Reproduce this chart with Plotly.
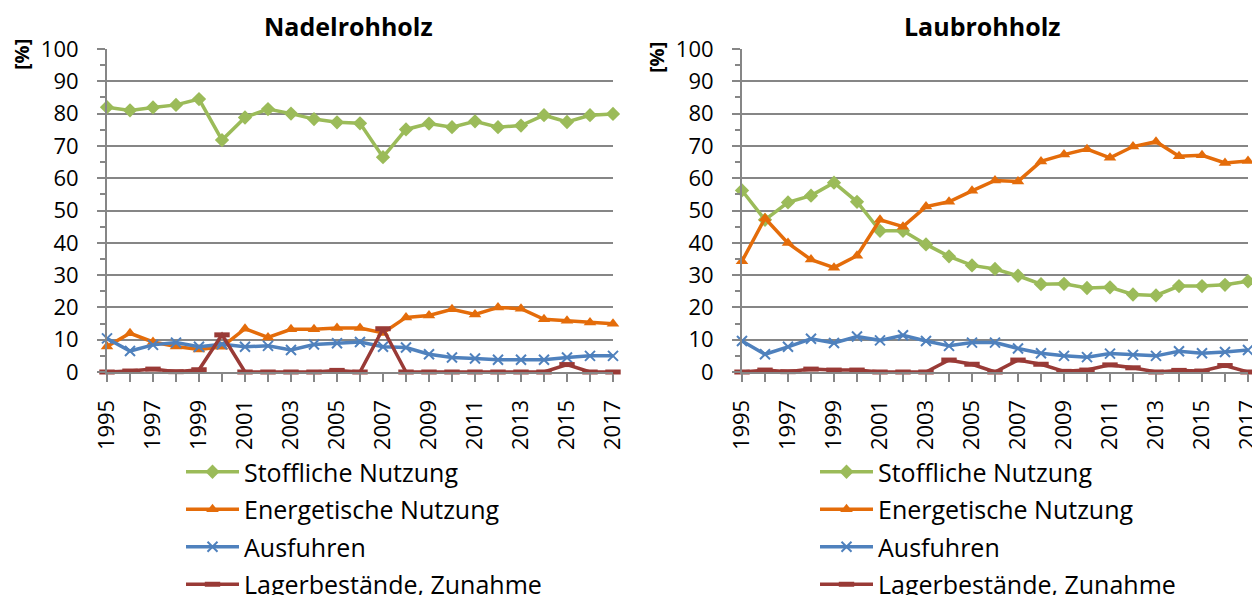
import plotly.graph_objects as go

years = list(range(1995, 2018))
tick_years = list(range(1995, 2018, 2))

series_names = ["Stoffliche Nutzung", "Energetische Nutzung", "Ausfuhren", "Lagerbestände, Zunahme"]

nadel_stoff = [82.0, 81.0, 81.9, 82.7, 84.5, 71.8, 78.8, 81.4, 80.0, 78.3, 77.3, 77.0, 66.5, 75.1, 76.9, 75.8, 77.6, 75.8, 76.3, 79.5, 77.4, 79.5, 79.9]
nadel_energ = [7.9, 12.0, 9.3, 7.9, 7.0, 7.8, 13.4, 10.7, 13.2, 13.2, 13.6, 13.6, 12.1, 16.9, 17.5, 19.4, 17.8, 20.0, 19.6, 16.3, 15.9, 15.3, 14.9]
nadel_ausf = [10.4, 6.5, 8.4, 9.1, 7.8, 8.6, 7.8, 8.1, 6.8, 8.5, 8.9, 9.3, 7.8, 7.6, 5.5, 4.5, 4.2, 3.8, 3.8, 3.8, 4.5, 5.0, 5.0]
nadel_lager = [0.0, 0.3, 0.9, 0.1, 0.7, 11.5, 0.0, 0.0, 0.0, 0.0, 0.5, 0.0, 13.4, 0.0, 0.0, 0.0, 0.0, 0.0, 0.0, 0.0, 2.3, 0.0, 0.0]

laub_stoff = [56.2, 47.1, 52.5, 54.6, 58.6, 52.7, 43.7, 43.7, 39.5, 35.8, 33.0, 31.9, 29.8, 27.2, 27.3, 26.0, 26.2, 24.0, 23.7, 26.6, 26.6, 27.0, 28.1]
laub_energ = [34.3, 47.6, 39.9, 34.8, 32.3, 36.0, 47.1, 45.0, 51.2, 52.7, 56.1, 59.3, 59.0, 65.2, 67.3, 69.0, 66.3, 69.8, 71.3, 66.8, 67.1, 64.7, 65.3]
laub_ausf = [9.6, 5.5, 7.8, 10.3, 9.0, 11.0, 9.8, 11.4, 9.6, 8.1, 9.1, 9.1, 7.3, 5.8, 5.0, 4.6, 5.7, 5.3, 5.0, 6.4, 5.8, 6.2, 6.8]
laub_lager = [0.0, 0.6, 0.1, 0.9, 0.6, 0.6, 0.0, 0.0, 0.0, 3.7, 2.4, 0.0, 3.7, 2.4, 0.2, 0.6, 2.2, 1.3, 0.0, 0.5, 0.3, 2.0, 0.0]

colors = ["#9BBB59", "#E46C0A", "#4F81BD", "#993A36"]
FONT = "Open Sans"
W, H = 1260, 595
OFF = 8  # page body margin

def px_x(p):
    return (p - OFF) / W

def px_y(p):
    return 1 - (p - OFF) / H

markers = [
    dict(symbol="diamond", size=11, color=colors[0]),
    dict(symbol="triangle-up", size=11, color=colors[1]),
    dict(symbol="x-thin", size=10, color=colors[2], line=dict(color=colors[2], width=2)),
    dict(symbol="line-ew", size=11, color=colors[3], line=dict(color=colors[3], width=5)),
]

fig = go.Figure()

panels = [
    ("x", "y", "legend", [nadel_stoff, nadel_energ, nadel_ausf, nadel_lager]),
    ("x2", "y2", "legend2", [laub_stoff, laub_energ, laub_ausf, laub_lager]),
]
for xa, ya, lg, data in panels:
    for name, vals, col, mk in zip(series_names, data, colors, markers):
        fig.add_trace(go.Scatter(
            x=years, y=vals, name=name, mode="lines+markers",
            line=dict(color=col, width=3.5), marker=mk,
            xaxis=xa, yaxis=ya, legend=lg, cliponaxis=False,
            hoverinfo="skip", legendgroup=lg + name,
        ))

axis_color = "#868686"
xcommon = dict(
    range=[1995, 2017], tickvals=tick_years, tickangle=-90,
    ticks="outside", ticklen=8, tickwidth=2, tickcolor=axis_color,
    minor=dict(dtick=1, tick0=1995, ticks="outside", ticklen=8, tickwidth=2, tickcolor=axis_color, showgrid=False),
    showline=True, linecolor=axis_color, linewidth=2, showgrid=False, zeroline=False,
    tickfont=dict(family=FONT, size=22, color="#000000"), ticklabelstandoff=9,
    fixedrange=True, automargin=False,
)
ycommon = dict(
    range=[0, 100], dtick=10, ticks="outside", ticklen=8, tickwidth=2, tickcolor=axis_color,
    minor=dict(dtick=5, ticks="outside", ticklen=5, tickwidth=2, tickcolor=axis_color, showgrid=False),
    showline=True, linecolor=axis_color, linewidth=2,
    showgrid=True, gridcolor=axis_color, gridwidth=2, zeroline=False,
    tickfont=dict(family=FONT, size=22, color="#000000"), ticklabelstandoff=14,
    fixedrange=True, automargin=False,
)

ydom = [px_y(372), px_y(49)]
fig.update_layout(
    width=W, height=H,
    margin=dict(l=0, r=0, t=0, b=0, autoexpand=False),
    paper_bgcolor="white", plot_bgcolor="white",
    showlegend=True,
    xaxis=dict(domain=[px_x(107), px_x(613)], anchor="y", **xcommon),
    yaxis=dict(domain=ydom, anchor="x", **ycommon),
    xaxis2=dict(domain=[px_x(742), px_x(1248)], anchor="y2", **xcommon),
    yaxis2=dict(domain=ydom, anchor="x2", **ycommon),
    legend=dict(x=px_x(181), y=px_y(449), xanchor="left", yanchor="top",
                font=dict(family=FONT, size=25, color="#000000"),
                itemwidth=53, tracegroupgap=2, bgcolor="rgba(0,0,0,0)"),
    legend2=dict(x=px_x(815), y=px_y(449), xanchor="left", yanchor="top",
                 font=dict(family=FONT, size=25, color="#000000"),
                 itemwidth=53, tracegroupgap=2, bgcolor="rgba(0,0,0,0)"),
    annotations=[
        dict(text="<b>Nadelrohholz</b>", x=px_x(348), y=px_y(26), xref="paper", yref="paper",
             showarrow=False, font=dict(family=FONT, size=25, color="#000000"),
             xanchor="center", yanchor="middle"),
        dict(text="<b>Laubrohholz</b>", x=px_x(982), y=px_y(26), xref="paper", yref="paper",
             showarrow=False, font=dict(family=FONT, size=25, color="#000000"),
             xanchor="center", yanchor="middle"),
        dict(text="<b>[%]</b>", x=px_x(22), y=px_y(55), xref="paper", yref="paper",
             showarrow=False, textangle=-90, font=dict(family=FONT, size=20, color="#000000"),
             xanchor="center", yanchor="middle"),
        dict(text="<b>[%]</b>", x=px_x(656), y=px_y(57), xref="paper", yref="paper",
             showarrow=False, textangle=-90, font=dict(family=FONT, size=20, color="#000000"),
             xanchor="center", yanchor="middle"),
    ],
)

fig.write_html("out.html")
